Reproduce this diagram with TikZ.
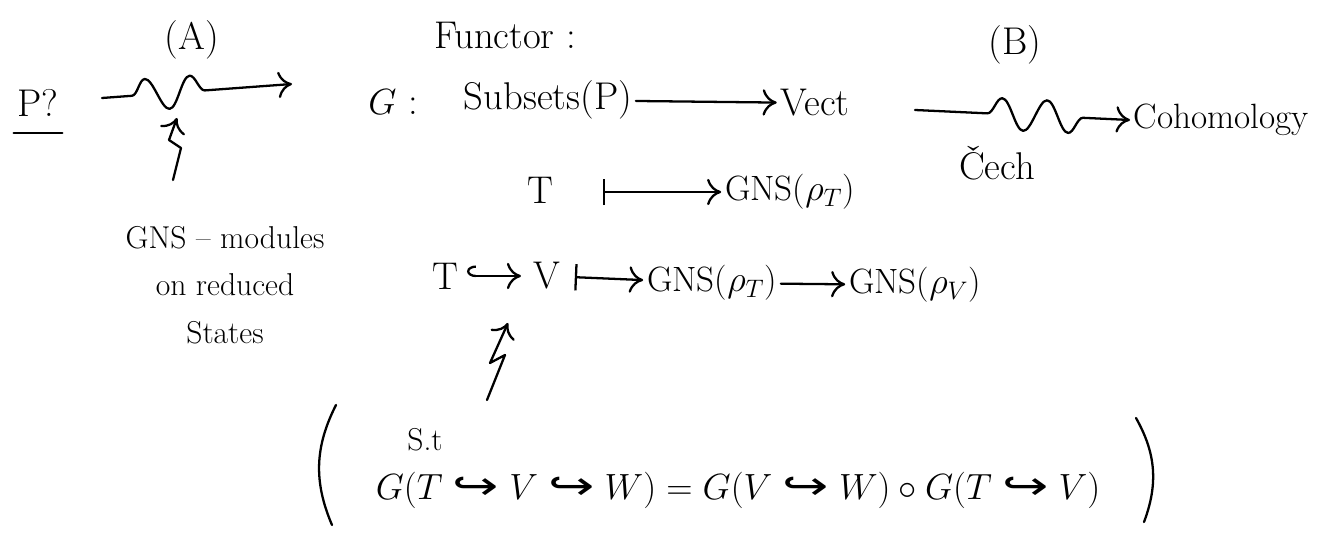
\documentclass[tikz,border=0pt]{standalone}
\usepackage{amsmath}
\usepackage{fontspec}
\newfontfamily\symfont{DejaVu Sans}
\usetikzlibrary{positioning, arrows.meta, decorations.pathmorphing}
\newcommand{\inc}{\mathrel{\text{\symfont\scalebox{1.4}[1]{↪}}}}

\begin{document}
\begin{tikzpicture}[x=0.02cm, y=-0.02cm,
    ink/.style={line width=1.3pt, line cap=round, line join=round},
    tip/.style={-{To[length=8pt, width=15pt]}},
    arr/.style={ink, tip},
    maps/.style={ink, {Bar[width=15pt]}-{To[length=8pt, width=15pt]}},
    hook/.style={ink, {Hooks[right, length=5pt, width=12pt]}-{To[length=8pt, width=15pt]}},
    wavy/.style={ink, tip, decorate, decoration={snake, amplitude=9pt, segment length=0.9cm}},
    big/.style={font=\fontsize{22}{26}\selectfont, inner sep=2pt},
    mid/.style={font=\fontsize{20}{24}\selectfont, inner sep=2pt},
    note/.style={font=\fontsize{18}{27}\selectfont, align=center, inner sep=2pt}]
  \useasboundingbox (0,0) rectangle (1332,533);

  % left part: (A)
  \node[big] (p) at (38,103) {P?};
  \draw[ink] ([yshift=-7pt]p.south west) -- ([yshift=-7pt]p.south east);
  \node[big] (la) at (192,40) {(A)};
  \coordinate (aS) at (102,98);
  \coordinate (aE) at (292,84);
  \draw[wavy, decoration={pre length=0.6cm, post length=1.4cm}] (aS) -- (aE);
  \node[note] (gns) at (225,285) {GNS -- modules\\on reduced\\States};
  \coordinate (zA) at (173,180);
  \draw[arr] (zA) -- (181,148) -- (169,140) -- (177,118);

  % functor G
  \node[big] (fun) at (505,35) {Functor :};
  \node[big] (g) at (393,102) {$G$ :};
  \node[big] (sub) at (548,100) {Subsets(P)};
  \node[big] (vect) at (815,103) {Vect};
  \draw[arr] (sub) -- (vect);

  % right part: (B)
  \node[big] (lb) at (1015,45) {(B)};
  \node[mid, anchor=west] (coh) at (1130,120) {Cohomology};
  \coordinate (bS) at (915,110);
  \draw[wavy, decoration={pre length=1.45cm, post length=0.7cm}] (bS) -- (coh.west);
  \node[big] (cech) at (997,163) {\v{C}ech};

  % objects
  \node[big] (t1) at (540,190) {T};
  \node[mid] (gt) at (790,192) {GNS($\rho_T$)};
  \draw[maps] (t1) ++(63,2) coordinate (m1) (m1) -- (gt);

  % morphisms
  \node[big] (t2) at (445,276) {T};
  \node[big] (v) at (547,276) {V};
  \node[mid] (gt2) at (712,283) {GNS($\rho_T$)};
  \node[mid] (gv) at (915,285) {GNS($\rho_V$)};
  \draw[hook, shorten <=3pt, shorten >=5pt] (t2) -- (v);
  \draw[maps, shorten <=6pt] (v) -- (gt2);
  \draw[arr] (gt2) -- (gv);
  \coordinate (zB) at (487,400);
  \draw[arr] (zB) -- (505,355) -- (490,363) -- (508,323);

  % composition rule
  \node[note] (st) at (425,440) {S.t};
  \node[font=\fontsize{22.5}{26}\selectfont] (eq) at (738,490)
    {$G(T\inc V\inc W) = G(V\inc W)\circ G(T\inc V)$};
  \draw[ink] (336,405) to[bend right=25] (332,525);
  \draw[ink] (1136,418) to[bend left=25] (1144,522);
\end{tikzpicture}
\end{document}
